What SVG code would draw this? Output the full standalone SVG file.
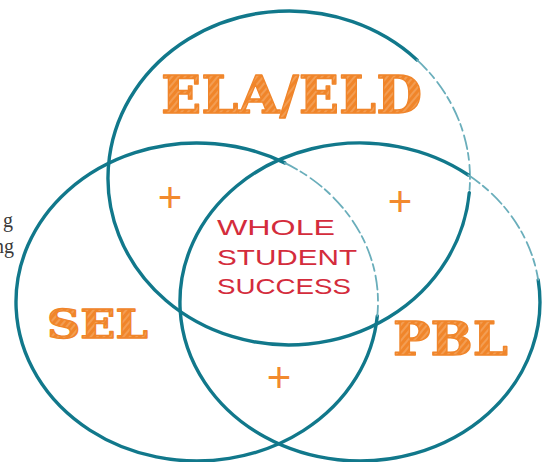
<svg xmlns="http://www.w3.org/2000/svg" width="543" height="462" viewBox="0 0 543 462">
<defs>
<pattern id="hatch" patternUnits="userSpaceOnUse" width="5" height="5" patternTransform="rotate(-50)">
<rect width="5" height="5" fill="#f0852a"/>
<line x1="0" y1="1" x2="5" y2="1" stroke="#f7b173" stroke-width="1.1"/>
</pattern>
</defs>
<style>
.ring{fill:none;stroke:#11788b;stroke-width:3.4;stroke-linecap:round}
.faint{fill:none;stroke:#6aaebb;stroke-width:1.8;stroke-dasharray:14 4 7 5;stroke-linecap:round}
.big{font-family:"DejaVu Serif",serif;font-weight:bold;fill:url(#hatch);stroke:#f0852a;stroke-width:1.3;stroke-linejoin:round}
.core{font-family:"Liberation Sans",Arial,sans-serif;font-size:21.5px;fill:#d42c3c}
.plus{font-family:"Liberation Sans",Arial,sans-serif;font-size:42px;fill:#f28a2e;text-anchor:middle}
.side{font-family:"Liberation Serif","Times New Roman",serif;font-size:20px;fill:#3a3a3a;text-anchor:end}
</style>
<rect width="543" height="462" fill="#ffffff"/>
<g id="side-text">
<text class="side" x="13" y="227">g</text>
<text class="side" x="14" y="253">ng</text>
</g>
<g id="ela-eld">
<path class="ring" d="M469.3,192.6 A181,167 0 1 1 417,59.9"/>
<path class="faint" d="M417,59.9 A181,167 0 0 1 469.3,192.6"/>
<text class="big" x="161" y="113" font-size="52" textLength="261" lengthAdjust="spacingAndGlyphs">ELA/ELD</text>
</g>
<g id="sel">
<path class="ring" d="M377.3,315.9 A181,159 0 1 1 284.7,162.9"/>
<path class="faint" d="M284.7,162.9 A181,159 0 0 1 377.3,315.9"/>
<text class="big" x="47" y="338" font-size="39" textLength="101" lengthAdjust="spacingAndGlyphs">SEL</text>
</g>
<g id="pbl">
<path class="ring" d="M538.2,279.9 A180,159 0 1 1 468.3,175"/>
<path class="faint" d="M468.3,175 A180,159 0 0 1 538.2,279.9"/>
<text class="big" x="393" y="355" font-size="47" textLength="115" lengthAdjust="spacingAndGlyphs">PBL</text>
</g>
<g id="whole-student-success">
<text class="core" x="217" y="235" textLength="118" lengthAdjust="spacingAndGlyphs">WHOLE</text>
<text class="core" x="217" y="265" textLength="140" lengthAdjust="spacingAndGlyphs">STUDENT</text>
<text class="core" x="217" y="294" textLength="134" lengthAdjust="spacingAndGlyphs">SUCCESS</text>
</g>
<g id="plus-ela-sel"><text class="plus" x="170" y="212">+</text></g>
<g id="plus-ela-pbl"><text class="plus" x="400" y="216">+</text></g>
<g id="plus-sel-pbl"><text class="plus" x="279" y="392">+</text></g>
</svg>
